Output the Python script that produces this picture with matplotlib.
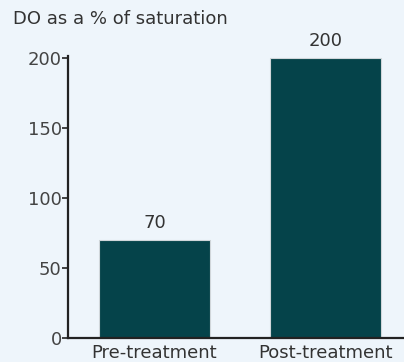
import matplotlib
matplotlib.use("Agg")
from matplotlib import pyplot as plt

categories = ["Pre-treatment", "Post-treatment"]
values = [70, 200]
yticks = [0, 50, 100, 150, 200]

BG = "#eef5fb"
BAR = "#05434a"
TXT = "#333333"

plt.rcParams["font.family"] = ["DejaVu Sans"]

fig = plt.figure(figsize=(4.04, 3.62), dpi=100, facecolor=BG)
ax = fig.add_axes([68 / 404, 24 / 362, 1 - 68 / 404, 282 / 362])
ax.set_facecolor(BG)

x = list(range(len(categories)))
ax.bar(x, values, width=0.65, color=BAR, edgecolor="#d0d6da", linewidth=0.8)
for xi, v in zip(x, values):
    ax.annotate(str(v), (xi, v), xytext=(0, 5.5), textcoords="offset points",
                ha="center", va="bottom", fontsize=13, color=TXT)

ax.set_xlim(-0.506, 1.46)
ax.set_ylim(0, 201.5)
ax.set_yticks(yticks)
ax.set_xticks(x)
ax.set_xticklabels(categories)
ax.tick_params(axis="y", length=4, width=1.2, color="#222222", labelsize=13, labelcolor="#444444", pad=0.5)
ax.tick_params(axis="x", length=0, labelsize=13, labelcolor=TXT, pad=4)
for s in ["top", "right"]:
    ax.spines[s].set_visible(False)
for s in ["left", "bottom"]:
    ax.spines[s].set_linewidth(1.6)
    ax.spines[s].set_color("#222222")

fig.text(13 / 404, 1 - 19 / 362, "DO as a % of saturation", ha="left", va="center", fontsize=13, color=TXT)

fig.savefig("out.png", dpi=100, facecolor=BG)
